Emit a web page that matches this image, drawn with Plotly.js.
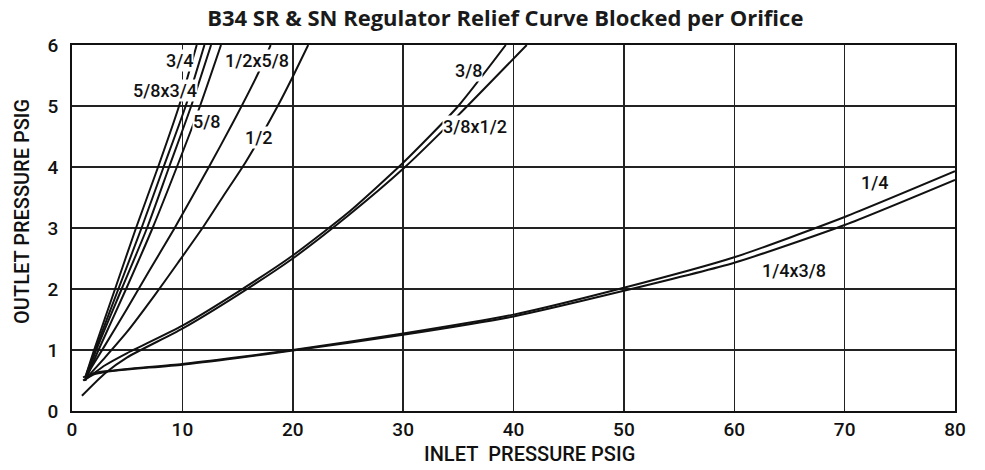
<!DOCTYPE html>
<html>
<head>
<meta charset="utf-8">
<script src="https://cdn.plot.ly/plotly-3.0.1.min.js"></script>
<style>
  html, body { margin: 0; padding: 0; background: #fff; }
  #chart { width: 985px; height: 470px; }
</style>
</head>
<body>
<div id="chart"></div>
<script>
// Orifice curve names (as labelled on the chart)
const curveNames = ["3/4", "5/8x3/4", "5/8 (b)", "5/8", "1/2x5/8", "1/2", "3/8", "3/8x1/2", "1/4", "1/4x3/8"];

// Inlet pressure (PSIG) / outlet pressure (PSIG)
const inlet_3_4    = [1.2, 2.0, 3.9, 5.8, 7.8, 9.7, 11.3];
const outlet_3_4   = [0.55, 1, 2, 3, 4, 5, 6];
const inlet_58x34  = [1.2, 2.1, 4.2, 6.3, 8.3, 10.3, 12.0];
const outlet_58x34 = [0.55, 1, 2, 3, 4, 5, 6];
const inlet_58b    = [1.2, 2.2, 4.5, 6.8, 8.8, 10.8, 12.6];
const outlet_58b   = [0.5, 1, 2, 3, 4, 5, 6];
const inlet_5_8    = [1.2, 2.4, 4.9, 7.3, 9.5, 11.6, 13.5];
const outlet_5_8   = [0.5, 1, 2, 3, 4, 5, 6];
const inlet_12x58  = [1.2, 3, 5, 7, 9.3, 12.4, 14.5, 16.9, 18.0];
const outlet_12x58 = [0.55, 1.08, 1.68, 2.3, 3.0, 4.0, 4.7, 5.55, 6.0];
const inlet_1_2    = [1.1, 3, 5, 7.5, 9.6, 11.9, 13.7, 15.7, 17.2, 18.7, 20, 21.4];
const outlet_1_2   = [0.5, 0.88, 1.3, 1.9, 2.43, 3.02, 3.52, 4.07, 4.53, 5.02, 5.48, 6.0];
const inlet_3_8    = [1.1, 3, 5, 10, 15, 20, 25, 30, 35, 39.3];
const outlet_3_8   = [0.5, 0.75, 0.95, 1.4, 1.95, 2.55, 3.25, 4.07, 5.0, 6.0];
const inlet_38x12  = [0.9, 3, 5, 10, 15, 20, 25, 30, 35, 41.2];
const outlet_38x12 = [0.25, 0.62, 0.88, 1.35, 1.9, 2.5, 3.2, 3.97, 4.85, 6.0];
const inlet_1_4    = [1, 2, 3, 5, 10, 15, 20, 30, 40, 50, 60, 70, 80];
const outlet_1_4   = [0.55, 0.62, 0.65, 0.69, 0.77, 0.88, 1.0, 1.27, 1.58, 2.02, 2.52, 3.18, 3.93];
const inlet_14x38  = [1, 2, 3, 5, 10, 15, 20, 30, 40, 50, 60, 70, 80];
const outlet_14x38 = [0.5, 0.6, 0.64, 0.68, 0.76, 0.87, 0.99, 1.25, 1.55, 1.97, 2.43, 3.05, 3.79];

// Curve labels and where they sit on the chart (data coordinates)
const labelTexts = ["3/4", "5/8x3/4", "5/8", "1/2x5/8", "1/2", "3/8", "3/8x1/2", "1/4", "1/4x3/8"];
const labelX     = [9.7, 8.45, 12.15, 16.8, 16.9, 35.9, 36.5, 72.7, 65.4];
const labelY     = [5.74, 5.26, 4.74, 5.75, 4.48, 5.59, 4.66, 3.74, 2.31];

// Axis ticks and titles
const xTicks = [0, 10, 20, 30, 40, 50, 60, 70, 80];
const yTicks = [0, 1, 2, 3, 4, 5, 6];
const chartTitle = 'B34 SR & SN Regulator Relief Curve Blocked per Orifice';
const xTitle = 'INLET&nbsp;&nbsp;PRESSURE PSIG';
const yTitle = 'OUTLET PRESSURE PSIG';

const xs = [inlet_3_4, inlet_58x34, inlet_58b, inlet_5_8, inlet_12x58, inlet_1_2, inlet_3_8, inlet_38x12, inlet_1_4, inlet_14x38];
const ys = [outlet_3_4, outlet_58x34, outlet_58b, outlet_5_8, outlet_12x58, outlet_1_2, outlet_3_8, outlet_38x12, outlet_1_4, outlet_14x38];

const traces = curveNames.map((n, i) => ({
  type: 'scatter', mode: 'lines', name: n,
  x: xs[i], y: ys[i],
  line: { color: '#111', width: 2, shape: 'spline', smoothing: 0.6 },
  hoverinfo: 'skip'
}));

const lblFont = { family: 'Roboto, Liberation Sans, Arial, sans-serif', size: 18, color: '#111', weight: 500 };
const annotations = labelTexts.map((t, i) => ({
  x: labelX[i], y: labelY[i], xref: 'x', yref: 'y', text: t,
  showarrow: false, font: lblFont, xanchor: 'center', yanchor: 'middle',
  bgcolor: '#fff', borderpad: 0
}));

const axTitleFont = { family: 'Roboto, Liberation Sans, Arial, sans-serif', size: 20, color: '#111', weight: 500 };
annotations.push({
  x: 0.5176, y: -0.118, xref: 'paper', yref: 'paper', text: xTitle,
  showarrow: false, font: axTitleFont, xanchor: 'center', yanchor: 'middle'
});
annotations.push({
  x: -0.0566, y: 0.544, xref: 'paper', yref: 'paper', text: yTitle, textangle: -90,
  showarrow: false, font: axTitleFont, xanchor: 'center', yanchor: 'middle'
});

const tickFont = { family: 'Roboto, Liberation Sans, Arial, sans-serif', size: 19, color: '#111', weight: 500 };

const layout = {
  width: 985, height: 470,
  margin: { l: 72, r: 30, t: 45, b: 59, pad: 0 },
  paper_bgcolor: '#fff', plot_bgcolor: '#fff',
  showlegend: false,
  title: {
    text: '<b>' + chartTitle + '</b>',
    font: { family: 'Open Sans, sans-serif', size: 22, color: '#1a1a1a' },
    x: 0.513, xanchor: 'center', y: 0.962, yanchor: 'middle'
  },
  xaxis: {
    range: [0, 80], tickvals: xTicks, ticktext: xTicks.map(String),
    showgrid: true, gridcolor: '#222', gridwidth: 1.5,
    showline: true, linecolor: '#111', linewidth: 2, mirror: true,
    zeroline: false, ticks: '', tickfont: tickFont, ticklabelstandoff: 0,
    fixedrange: true
  },
  yaxis: {
    range: [0, 6], tickvals: yTicks, ticktext: yTicks.map(String),
    showgrid: true, gridcolor: '#222', gridwidth: 1.5,
    showline: true, linecolor: '#111', linewidth: 2, mirror: true,
    zeroline: false, ticks: '', tickfont: tickFont, ticklabelstandoff: 8,
    fixedrange: true
  },
  annotations: annotations
};

Plotly.newPlot('chart', traces, layout, { staticPlot: true, displayModeBar: false });
</script>
</body>
</html>
